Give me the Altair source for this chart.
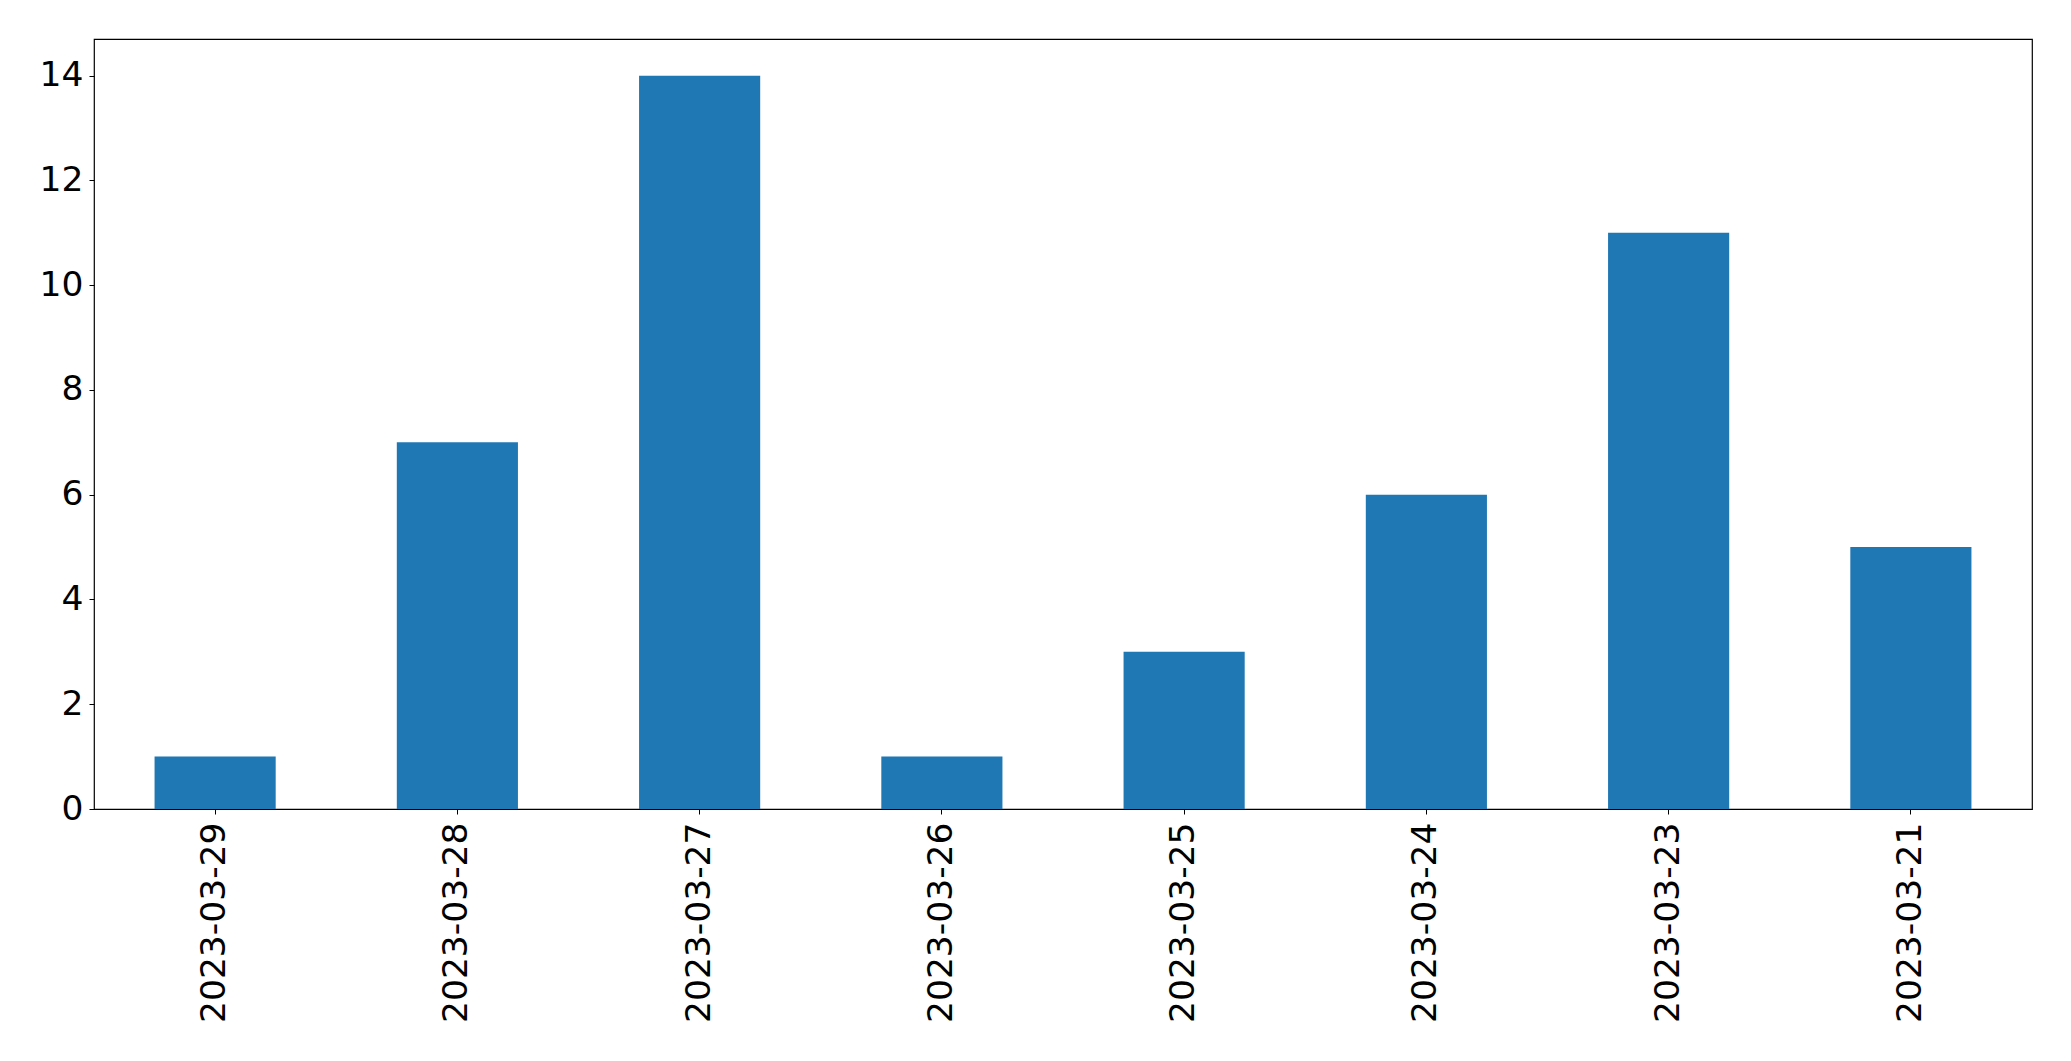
import altair as alt
import pandas as pd

dates = ["2023-03-29", "2023-03-28", "2023-03-27", "2023-03-26",
         "2023-03-25", "2023-03-24", "2023-03-23", "2023-03-21"]
counts = [1, 7, 14, 1, 3, 6, 11, 5]
y_ticks = [0, 2, 4, 6, 8, 10, 12, 14]

df = pd.DataFrame({"date": dates, "count": counts})

FONT = "DejaVu Sans"
FS = 34.5

chart = alt.Chart(df).mark_bar(color="#1f77b4").encode(
    x=alt.X("date:N", sort=None, title=None,
            scale=alt.Scale(paddingInner=0.5, paddingOuter=0.25),
            axis=alt.Axis(labelAngle=-90, labelAlign="right", labelBaseline="middle",
                          labelPadding=8, tickSize=5, tickColor="black", tickWidth=1,
                          domain=False, labelFont=FONT, labelFontSize=FS, labelLimit=0,
                          labelColor="black", grid=False)),
    y=alt.Y("count:Q", title=None,
            scale=alt.Scale(domain=[0, 14.7], nice=False, zero=True),
            axis=alt.Axis(values=y_ticks, tickSize=5, tickColor="black", tickWidth=1,
                          labelPadding=6, domain=False, labelFont=FONT, labelFontSize=FS,
                          labelColor="black", grid=False, labelFlush=False)),
).properties(
    width=1938, height=770,
    background="white",
    autosize=alt.AutoSizeParams(type="none"),
    padding={"left": 86, "top": 31, "right": 30, "bottom": 230},
).configure_view(
    stroke="black", strokeWidth=1.2
)

chart.save("out.html", embed_options={"renderer": "svg", "actions": False})
